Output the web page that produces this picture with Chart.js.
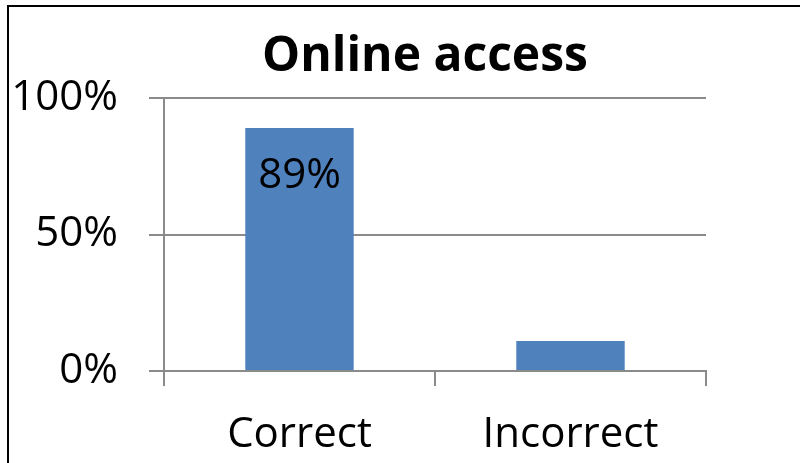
<!DOCTYPE html>
<html>
<head>
<meta charset="utf-8">
<script src="https://cdn.jsdelivr.net/npm/chart.js@4"></script>
<style>
  html, body { margin: 0; padding: 0; background: #ffffff; }
  #wrap { position: relative; width: 800px; height: 463px; overflow: hidden; }
  #frame { position: absolute; left: 7px; top: 5px; width: 900px; height: 600px;
           border-top: 2px solid #000; border-left: 2px solid #000; pointer-events: none; }
  canvas { position: absolute; left: 0; top: 0; }
</style>
</head>
<body>
<div id="wrap">
  <canvas id="c" width="800" height="463"></canvas>
  <div id="frame"></div>
</div>
<script>
const chartTitle = 'Online access';
const categories = ['Correct', 'Incorrect'];
const values = [89, 11];
const dataLabels = ['89%', null];
const yTicks = [0, 50, 100];

const FONT = '"Open Sans", "Liberation Sans", sans-serif';
const GRID = '#8a8a8a';

const titlePlugin = {
  id: 'titleDraw',
  afterDraw(chart) {
    const ctx = chart.ctx;
    ctx.save();
    ctx.font = 'bold 48px ' + FONT;
    ctx.fillStyle = '#000';
    ctx.textAlign = 'center';
    ctx.textBaseline = 'alphabetic';
    ctx.fillText(chartTitle, 425, 71);
    ctx.restore();
  }
};

const labelPlugin = {
  id: 'barLabels',
  afterDatasetsDraw(chart) {
    const ctx = chart.ctx;
    const meta = chart.getDatasetMeta(0);
    ctx.save();
    ctx.font = '42px ' + FONT;
    ctx.fillStyle = '#000';
    ctx.textAlign = 'center';
    ctx.textBaseline = 'middle';
    meta.data.forEach((bar, i) => {
      if (!dataLabels[i]) return;
      ctx.fillText(dataLabels[i], bar.x, bar.y + 48);
    });
    ctx.restore();
  }
};

new Chart(document.getElementById('c'), {
  type: 'bar',
  data: {
    labels: categories,
    datasets: [{
      data: values,
      backgroundColor: '#4F81BD',
      borderWidth: 0,
      barPercentage: 0.4,
      categoryPercentage: 1.0
    }]
  },
  options: {
    responsive: false,
    animation: false,
    events: [],
    layout: { padding: { left: 0, right: 94, top: 98, bottom: 0 } },
    plugins: {
      legend: { display: false },
      title: { display: false },
      tooltip: { enabled: false }
    },
    scales: {
      x: {
        offset: true,
        afterFit(scale) { scale.height = 92; },
        grid: { offset: true, drawOnChartArea: false, drawTicks: true, tickLength: 15, color: GRID, lineWidth: 2 },
        border: { display: true, color: GRID, width: 2 },
        ticks: { color: '#000', font: { family: FONT, size: 42 }, padding: 24, maxRotation: 0 }
      },
      y: {
        min: 0,
        max: 100,
        afterFit(scale) { scale.width = 164; },
        afterBuildTicks(scale) { scale.ticks = yTicks.map(v => ({ value: v })); },
        grid: { drawTicks: true, tickLength: 15, color: GRID, lineWidth: 2 },
        border: { display: true, color: GRID, width: 2 },
        ticks: { color: '#000', font: { family: FONT, size: 42 }, padding: 31,
                 callback: v => v + '%' }
      }
    }
  },
  plugins: [titlePlugin, labelPlugin]
});
</script>
</body>
</html>
